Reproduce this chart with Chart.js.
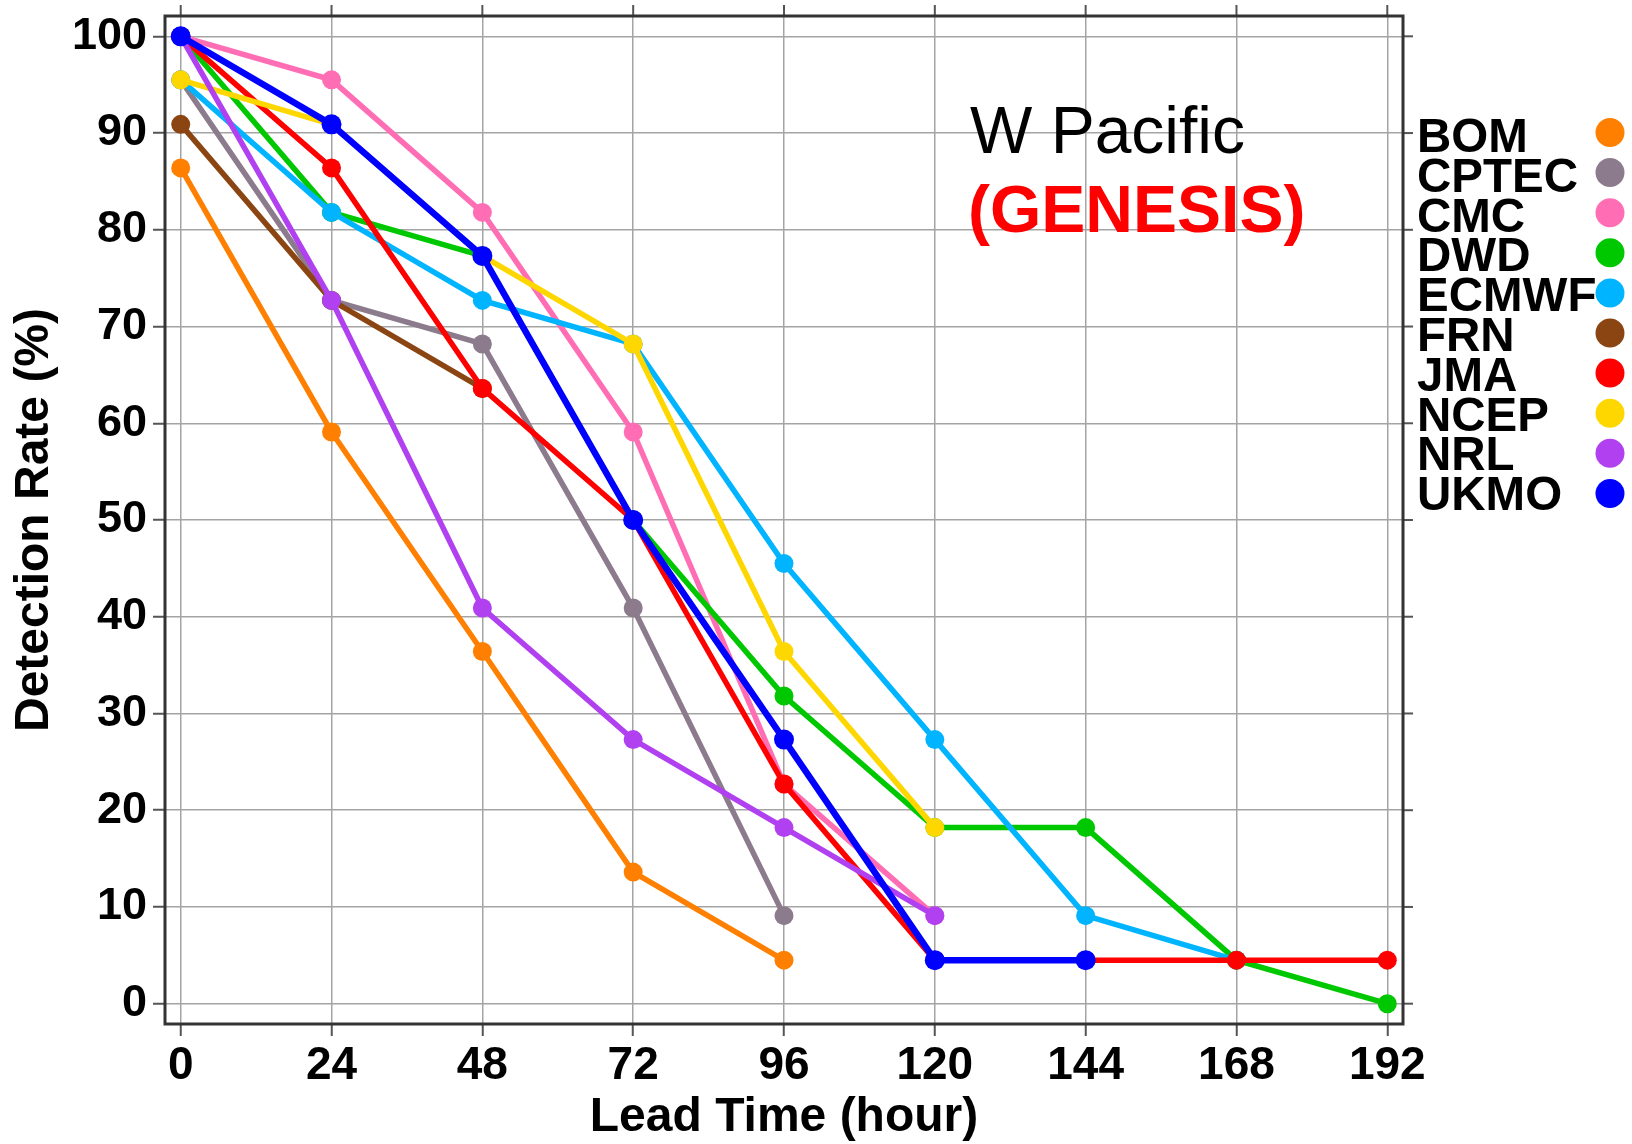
<!DOCTYPE html>
<html>
<head>
<meta charset="utf-8">
<script src="https://cdn.jsdelivr.net/npm/chart.js@4.4.1/dist/chart.umd.min.js"></script>
<style>
  html, body { margin: 0; padding: 0; background: #fff; }
  #wrap { width: 1632px; height: 1144px; position: relative; }
</style>
</head>
<body>
<div id="wrap"><canvas id="chart"></canvas></div>
<script>
// lead times (hours) and tick labels
const leadTimes = [0, 24, 48, 72, 96, 120, 144, 168, 192];
const yTicks = [0, 10, 20, 30, 40, 50, 60, 70, 80, 90, 100];

const centres = ['BOM', 'CPTEC', 'CMC', 'DWD', 'ECMWF', 'FRN', 'JMA', 'NCEP', 'NRL', 'UKMO'];
const colours = ['#ff8000', '#8c7b8c', '#ff6eb4', '#00c800', '#00b4ff', '#8b4513', '#ff0000', '#ffd700', '#b040f0', '#0000ff'];

// detection rate (%) at each lead time, series end where the model stops
const bom   = [86.4, 59.1, 36.4, 13.6, 4.5];
const cptec = [95.5, 72.7, 68.2, 40.9, 9.1];
const cmc   = [100, 95.5, 81.8, 59.1, 22.7, 9.1];
const dwd   = [100, 81.8, 77.3, 50, 31.8, 18.2, 18.2, 4.5, 0];
const ecmwf = [95.5, 81.8, 72.7, 68.2, 45.5, 27.3, 9.1, 4.5];
const frn   = [90.9, 72.7, 63.6];
const jma   = [100, 86.4, 63.6, 50, 22.7, 4.5, 4.5, 4.5, 4.5];
const ncep  = [95.5, 90.9, 77.3, 68.2, 36.4, 18.2];
const nrl   = [100, 72.7, 40.9, 27.3, 18.2, 9.1];
const ukmo  = [100, 90.9, 77.3, 50, 27.3, 4.5, 4.5];

const series = [bom, cptec, cmc, dwd, ecmwf, frn, jma, ncep, nrl, ukmo];

const FONT = "'Liberation Sans', Arial, sans-serif";

const datasets = series.map((vals, i) => ({
  label: centres[i],
  data: vals.map((v, j) => ({ x: leadTimes[j], y: v })),
  borderColor: colours[i],
  backgroundColor: colours[i],
  borderWidth: centres[i] === 'UKMO' ? 6.5 : 5.5,
  pointRadius: centres[i] === 'UKMO' ? 10 : 9.5,
  pointBorderWidth: 0,
  pointHoverRadius: 10,
  tension: 0,
  order: series.length - i   // later models on top
}));

// frame, outer tick marks on top/right, legend and region label
const extras = {
  id: 'extras',
  beforeDatasetsDraw(chart) {
    const { ctx, chartArea: a, scales } = chart;
    ctx.save();
    ctx.strokeStyle = '#555';
    ctx.lineWidth = 2;
    leadTimes.forEach(t => {
      const px = scales.x.getPixelForValue(t);
      ctx.beginPath(); ctx.moveTo(px, a.top); ctx.lineTo(px, a.top - 11); ctx.stroke();
    });
    yTicks.forEach(v => {
      const py = scales.y.getPixelForValue(v);
      ctx.beginPath(); ctx.moveTo(a.right, py); ctx.lineTo(a.right + 10, py); ctx.stroke();
    });
    ctx.strokeStyle = '#333';
    ctx.lineWidth = 3;
    ctx.strokeRect(a.left, a.top, a.right - a.left, a.bottom - a.top);
    ctx.restore();
  },
  afterDraw(chart) {
    const { ctx } = chart;
    ctx.save();
    ctx.textAlign = 'left';
    ctx.textBaseline = 'alphabetic';
    ctx.font = 'bold 47.5px ' + FONT;
    chart.data.datasets.forEach((ds, i) => {
      ctx.fillStyle = '#000';
      ctx.fillText(ds.label, 1417, 152 + 39.8 * i);
      ctx.fillStyle = ds.borderColor;
      ctx.beginPath();
      ctx.arc(1610, 132.5 + 40.1 * i, 14.5, 0, Math.PI * 2);
      ctx.fill();
    });
    ctx.fillStyle = '#000';
    ctx.font = '66px ' + FONT;
    ctx.fillText('W Pacific', 970, 153);
    ctx.fillStyle = '#ff0000';
    ctx.font = 'bold 66px ' + FONT;
    ctx.fillText('(GENESIS)', 968, 232);
    ctx.restore();
  }
};

new Chart(document.getElementById('chart'), {
  type: 'line',
  data: { datasets },
  options: {
    responsive: true,
    maintainAspectRatio: false,
    animation: false,
    layout: { padding: { top: 16, right: 229, left: 0, bottom: 0 } },
    plugins: {
      legend: { display: false },
      tooltip: { enabled: false }
    },
    scales: {
      x: {
        type: 'linear',
        min: -2.5,
        max: 194.5,
        afterBuildTicks: s => { s.ticks = leadTimes.map(v => ({ value: v })); },
        afterFit: s => { s.height = 120; s.paddingLeft = 0; s.paddingRight = 0; },
        grid: { color: '#a4a4a4', lineWidth: 1.5, tickLength: 12, tickColor: '#555', tickWidth: 2 },
        border: { display: false },
        ticks: { color: '#000', padding: 7, font: { family: FONT, size: 46, weight: 'bold', lineHeight: 1 } },
        title: {
          display: true, text: 'Lead Time (hour)', color: '#000',
          padding: { top: 0, bottom: 2 },
          font: { family: FONT, size: 48, weight: 'bold', lineHeight: 1 }
        }
      },
      y: {
        min: -2.1,
        max: 102.1,
        afterBuildTicks: s => { s.ticks = yTicks.map(v => ({ value: v })); },
        afterFit: s => { s.width = 165; s.paddingTop = 0; s.paddingBottom = 0; },
        grid: { color: '#a4a4a4', lineWidth: 1.5, tickLength: 12, tickColor: '#555', tickWidth: 2 },
        border: { display: false },
        ticks: { color: '#000', padding: 6, font: { family: FONT, size: 45, weight: 'bold', lineHeight: 1 } },
        title: {
          display: true, text: 'Detection Rate (%)', color: '#000',
          padding: { top: 11, bottom: 0 },
          font: { family: FONT, size: 48, weight: 'bold', lineHeight: 1 }
        }
      }
    }
  },
  plugins: [extras]
});
</script>
</body>
</html>
